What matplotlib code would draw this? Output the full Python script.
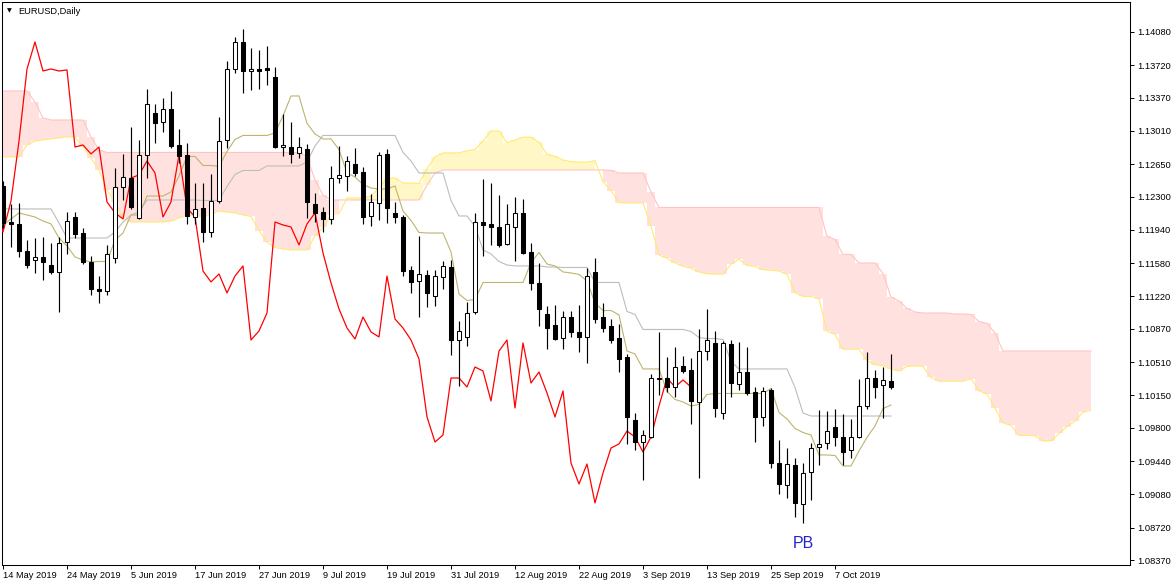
import numpy as np
import matplotlib
matplotlib.use('Agg')
import matplotlib.pyplot as plt
from matplotlib.patches import Rectangle

plt.rcParams['font.family'] = ['Liberation Sans', 'DejaVu Sans']

symbol_title = 'EURUSD,Daily'
date_labels = ['14 May 2019', '24 May 2019', '5 Jun 2019', '17 Jun 2019', '27 Jun 2019', '9 Jul 2019',
               '19 Jul 2019', '31 Jul 2019', '12 Aug 2019', '22 Aug 2019', '3 Sep 2019', '13 Sep 2019',
               '25 Sep 2019', '7 Oct 2019']
date_label_bars = [0, 8, 16, 24, 32, 40, 48, 56, 64, 72, 80, 88, 96, 104]
price_ticks = [1.14080, 1.13720, 1.13370, 1.13010, 1.12650, 1.12300, 1.11940, 1.11580, 1.11220,
               1.10870, 1.10510, 1.10150, 1.09800, 1.09440, 1.09080, 1.08720, 1.08370]

# daily candles, 14 May 2019 .. 16 Oct 2019
opens = [1.12415, 1.12025, 1.12004, 1.11712, 1.11614, 1.11647, 1.11560, 1.11485, 1.11809, 1.12079,
         1.11906, 1.11593, 1.11301, 1.11279, 1.11636, 1.12404, 1.12501, 1.12069, 1.12750, 1.13204,
         1.13107, 1.13247, 1.12858, 1.12750, 1.12079, 1.12177, 1.11917, 1.12252, 1.12912, 1.13680,
         1.13972, 1.13658, 1.13680, 1.13691, 1.13593, 1.12836, 1.12836, 1.12772, 1.12815, 1.12220,
         1.12134, 1.12058, 1.12501, 1.12523, 1.12653, 1.12566, 1.12090, 1.12231, 1.12761, 1.12123,
         1.12079, 1.11506, 1.11387, 1.11452, 1.11225, 1.11431, 1.11539, 1.10749, 1.10782, 1.11052,
         1.12025, 1.12004, 1.11971, 1.11787, 1.11971, 1.12123, 1.11701, 1.11366, 1.11030, 1.10911,
         1.10771, 1.10998, 1.10836, 1.10782, 1.11485, 1.10998, 1.10901, 1.10771, 1.10565, 1.09884,
         1.09646, 1.09700, 1.10328, 1.10338, 1.10241, 1.10468, 1.10425, 1.10079, 1.10630, 1.10717,
         1.09960, 1.10706, 1.10273, 1.10403, 1.10187, 1.09917, 1.10209, 1.09419, 1.09181, 1.09398,
         1.08976, 1.09322, 1.09592, 1.09635, 1.09808, 1.09700, 1.09560, 1.09700, 1.10036, 1.10338,
         1.10263, 1.10306]
highs = [1.12469, 1.12220, 1.12231, 1.11831, 1.11852, 1.11863, 1.11798, 1.11863, 1.12134, 1.12134,
         1.11960, 1.11658, 1.11441, 1.11777, 1.12609, 1.12761, 1.13053, 1.12912, 1.13464, 1.13301,
         1.13366, 1.13442, 1.13031, 1.12880, 1.12447, 1.12447, 1.12544, 1.13161, 1.13766, 1.14026,
         1.14112, 1.13907, 1.13885, 1.13929, 1.13702, 1.13193, 1.13107, 1.12945, 1.12869, 1.12339,
         1.12188, 1.12631, 1.12847, 1.12739, 1.12826, 1.12620, 1.12328, 1.12782, 1.12815, 1.12242,
         1.12101, 1.11550, 1.11874, 1.11506, 1.11506, 1.11604, 1.11614, 1.10955, 1.11160, 1.12123,
         1.12490, 1.12447, 1.12317, 1.12220, 1.12296, 1.12274, 1.11798, 1.11582, 1.11117, 1.11128,
         1.11063, 1.11063, 1.11128, 1.11528, 1.11636, 1.11149, 1.10976, 1.10922, 1.10598, 1.09960,
         1.09776, 1.10382, 1.10836, 1.10565, 1.10674, 1.10576, 1.10555, 1.10868, 1.11085, 1.10847,
         1.10738, 1.10749, 1.10728, 1.10674, 1.10241, 1.10241, 1.10230, 1.09668, 1.09581, 1.09473,
         1.09419, 1.09635, 1.09992, 1.09982, 1.10003, 1.09949, 1.09895, 1.10328, 1.10620, 1.10425,
         1.10457, 1.10598]
lows = [1.11960, 1.11755, 1.11647, 1.11528, 1.11474, 1.11398, 1.11463, 1.11052, 1.11679, 1.11852,
        1.11571, 1.11236, 1.11149, 1.11236, 1.11582, 1.12263, 1.12166, 1.12058, 1.12501, 1.12880,
        1.12999, 1.12826, 1.12663, 1.12004, 1.12004, 1.11809, 1.11863, 1.12231, 1.12826, 1.13637,
        1.13420, 1.13453, 1.13464, 1.13507, 1.12826, 1.12739, 1.12663, 1.12717, 1.12069, 1.12025,
        1.11917, 1.12004, 1.12447, 1.12361, 1.12523, 1.12004, 1.11982, 1.12047, 1.12015, 1.12015,
        1.11441, 1.11258, 1.10998, 1.11106, 1.11117, 1.11301, 1.10587, 1.10252, 1.10684, 1.11030,
        1.11658, 1.11777, 1.11755, 1.11777, 1.11604, 1.11679, 1.11290, 1.10901, 1.10652, 1.10749,
        1.10652, 1.10782, 1.10620, 1.10501, 1.10933, 1.10836, 1.10717, 1.10403, 1.09625, 1.09560,
        1.09235, 1.09690, 1.10154, 1.10187, 1.10133, 1.10392, 1.09841, 1.09257, 1.10533, 1.09917,
        1.09895, 1.10133, 1.10209, 1.10154, 1.09646, 1.09819, 1.09365, 1.09084, 1.09041, 1.08835,
        1.08770, 1.09019, 1.09398, 1.09571, 1.09603, 1.09398, 1.09473, 1.09690, 1.10003, 1.10122,
        1.09906, 1.10219]
closes = [1.12015, 1.12004, 1.11712, 1.11560, 1.11647, 1.11593, 1.11485, 1.11798, 1.12036, 1.11896,
          1.11593, 1.11301, 1.11279, 1.11679, 1.12404, 1.12512, 1.12188, 1.12750, 1.13301, 1.13096,
          1.13247, 1.12847, 1.12739, 1.12090, 1.12166, 1.11917, 1.12252, 1.12901, 1.13680, 1.13972,
          1.13658, 1.13680, 1.13658, 1.13669, 1.12836, 1.12858, 1.12761, 1.12836, 1.12242, 1.12123,
          1.12058, 1.12501, 1.12534, 1.12685, 1.12555, 1.12079, 1.12242, 1.12750, 1.12177, 1.12079,
          1.11495, 1.11377, 1.11463, 1.11258, 1.11441, 1.11550, 1.10749, 1.10847, 1.11041, 1.12025,
          1.11993, 1.11971, 1.11777, 1.12004, 1.12123, 1.11690, 1.11366, 1.11085, 1.10879, 1.10760,
          1.10998, 1.10836, 1.10782, 1.11441, 1.10976, 1.10879, 1.10749, 1.10544, 1.09917, 1.09646,
          1.09722, 1.10338, 1.10338, 1.10241, 1.10457, 1.10414, 1.10090, 1.10630, 1.10749, 1.10014,
          1.10717, 1.10284, 1.10403, 1.10176, 1.09917, 1.10198, 1.09419, 1.09192, 1.09408, 1.08987,
          1.09311, 1.09581, 1.09625, 1.09765, 1.09700, 1.09538, 1.09700, 1.10036, 1.10338, 1.10241,
          1.10317, 1.10241]

# Ichimoku lines
tenkan = [1.11993, 1.12058, 1.12123, 1.12101, 1.12079, 1.12036, 1.12004, 1.11852, 1.11766, 1.11647,
          1.11614, 1.11593, 1.11598, 1.11598, 1.11831, 1.11906, 1.12101, 1.12101, 1.12306, 1.12306,
          1.12306, 1.12350, 1.12523, 1.12734, 1.12734, 1.12636, 1.12636, 1.12626, 1.12788, 1.12918,
          1.12961, 1.12961, 1.12961, 1.12961, 1.12988, 1.13172, 1.13388, 1.13388, 1.13091, 1.12977,
          1.12923, 1.12923, 1.12809, 1.12555, 1.12512, 1.12431, 1.12393, 1.12382, 1.12382, 1.12415,
          1.12144, 1.12042, 1.11912, 1.11906, 1.11906, 1.11906, 1.11701, 1.11247, 1.11176, 1.11187,
          1.11371, 1.11371, 1.11371, 1.11371, 1.11371, 1.11371, 1.11587, 1.11696, 1.11571, 1.11550,
          1.11485, 1.11474, 1.11458, 1.11387, 1.11149, 1.11068, 1.11068, 1.11020, 1.10630, 1.10598,
          1.10436, 1.10436, 1.10436, 1.10192, 1.10106, 1.10079, 1.10036, 1.10052, 1.10160, 1.10171,
          1.10171, 1.10171, 1.10171, 1.10171, 1.10171, 1.10171, 1.10225, 1.09965, 1.09895, 1.09792,
          1.09749, 1.09722, 1.09506, 1.09506, 1.09500, 1.09387, 1.09387, 1.09549, 1.09695, 1.09819,
          1.10008, 1.10046]
kijun = [1.12166, 1.12166, 1.12166, 1.12166, 1.12166, 1.12166, 1.12166, 1.12015, 1.11852, 1.11852,
         1.11852, 1.11852, 1.11852, 1.11852, 1.11917, 1.12025, 1.12101, 1.12134, 1.12263, 1.12263,
         1.12263, 1.12263, 1.12263, 1.12263, 1.12263, 1.12258, 1.12258, 1.12258, 1.12409, 1.12539,
         1.12582, 1.12582, 1.12582, 1.12631, 1.12631, 1.12631, 1.12631, 1.12631, 1.12674, 1.12847,
         1.12961, 1.12961, 1.12961, 1.12961, 1.12961, 1.12961, 1.12961, 1.12961, 1.12961, 1.12961,
         1.12777, 1.12685, 1.12555, 1.12555, 1.12555, 1.12555, 1.12258, 1.12090, 1.12090, 1.11977,
         1.11723, 1.11679, 1.11598, 1.11560, 1.11550, 1.11550, 1.11550, 1.11550, 1.11539, 1.11539,
         1.11533, 1.11533, 1.11533, 1.11533, 1.11371, 1.11371, 1.11371, 1.11371, 1.11058, 1.11025,
         1.10863, 1.10863, 1.10863, 1.10863, 1.10863, 1.10863, 1.10841, 1.10776, 1.10765, 1.10765,
         1.10755, 1.10517, 1.10436, 1.10436, 1.10436, 1.10436, 1.10436, 1.10436, 1.10436, 1.10236,
         1.09960, 1.09927, 1.09927, 1.09927, 1.09927, 1.09927, 1.09927, 1.09927, 1.09927, 1.09927,
         1.09927, 1.09927]
span_a = [1.12728, 1.12728, 1.12728, 1.12858, 1.12901, 1.12912, 1.12923, 1.12934, 1.12945, 1.12945,
          1.12836, 1.12717, 1.12588, 1.12371, 1.12242, 1.12069, 1.12025, 1.12025, 1.12025, 1.12025,
          1.12025, 1.12036, 1.12069, 1.12101, 1.12101, 1.12079, 1.12112, 1.12144, 1.12134, 1.12123,
          1.12101, 1.12085, 1.11933, 1.11809, 1.11750, 1.11733, 1.11723, 1.11723, 1.11723, 1.11874,
          1.11966, 1.12101, 1.12117, 1.12285, 1.12285, 1.12285, 1.12306, 1.12393, 1.12501, 1.12501,
          1.12447, 1.12447, 1.12442, 1.12599, 1.12728, 1.12772, 1.12772, 1.12772, 1.12796, 1.12809,
          1.12901, 1.13009, 1.13009, 1.12882, 1.12912, 1.12942, 1.12942, 1.12885, 1.12758, 1.12736,
          1.12696, 1.12677, 1.12672, 1.12672, 1.12688, 1.12461, 1.12363, 1.12234, 1.12231, 1.12231,
          1.12231, 1.11979, 1.11668, 1.11633, 1.11582, 1.11547, 1.11525, 1.11485, 1.11466, 1.11460,
          1.11460, 1.11568, 1.11623, 1.11555, 1.11544, 1.11509, 1.11504, 1.11495, 1.11460, 1.11260,
          1.11220, 1.11220, 1.11195, 1.10844, 1.10811, 1.10649, 1.10649, 1.10649, 1.10528, 1.10484,
          1.10471, 1.10438, 1.10414, 1.10463, 1.10468, 1.10463, 1.10344, 1.10303, 1.10303, 1.10303,
          1.10303, 1.10330, 1.10200, 1.10165, 1.10014, 1.09854, 1.09825, 1.09717, 1.09717, 1.09714,
          1.09657, 1.09657, 1.09738, 1.09811, 1.09873, 1.09968, 1.09987]
span_b = [1.13442, 1.13442, 1.13442, 1.13442, 1.13323, 1.13150, 1.13128, 1.13128, 1.13128, 1.13128,
          1.13128, 1.12945, 1.12804, 1.12777, 1.12777, 1.12777, 1.12777, 1.12777, 1.12777, 1.12777,
          1.12777, 1.12777, 1.12777, 1.12777, 1.12777, 1.12777, 1.12777, 1.12777, 1.12777, 1.12777,
          1.12777, 1.12777, 1.12777, 1.12777, 1.12777, 1.12777, 1.12777, 1.12777, 1.12728, 1.12480,
          1.12317, 1.12263, 1.12263, 1.12263, 1.12263, 1.12263, 1.12263, 1.12263, 1.12263, 1.12263,
          1.12263, 1.12263, 1.12263, 1.12425, 1.12555, 1.12588, 1.12588, 1.12588, 1.12588, 1.12588,
          1.12588, 1.12588, 1.12588, 1.12588, 1.12588, 1.12588, 1.12588, 1.12588, 1.12588, 1.12588,
          1.12588, 1.12588, 1.12588, 1.12588, 1.12588, 1.12588, 1.12582, 1.12555, 1.12555, 1.12555,
          1.12555, 1.12350, 1.12182, 1.12182, 1.12182, 1.12182, 1.12182, 1.12182, 1.12182, 1.12182,
          1.12182, 1.12182, 1.12182, 1.12182, 1.12182, 1.12182, 1.12182, 1.12182, 1.12182, 1.12182,
          1.12182, 1.12182, 1.12182, 1.11869, 1.11836, 1.11674, 1.11674, 1.11582, 1.11582, 1.11582,
          1.11468, 1.11214, 1.11171, 1.11090, 1.11052, 1.11041, 1.11041, 1.11041, 1.11041, 1.11030,
          1.11030, 1.11025, 1.10949, 1.10928, 1.10825, 1.10630, 1.10630, 1.10630, 1.10630, 1.10630,
          1.10630, 1.10630, 1.10630, 1.10630, 1.10630, 1.10630, 1.10630]
chikou_shift = 25

W, H = 1175, 584
fig = plt.figure(figsize=(W / 100, H / 100), dpi=100)
ax = fig.add_axes([2 / W, 1 - 565 / H, 1128 / W, 563 / H])

bars = np.arange(len(closes))
cloud_x = np.arange(len(span_a))
sa = np.array(span_a)
sb = np.array(span_b)

# cloud
ax.fill_between(cloud_x, sa, sb, where=sb >= sa, step='mid', color='#FFE2E0', lw=0, zorder=1)
ax.fill_between(cloud_x, sa, sb, where=sa > sb, step='mid', color='#FFF7C6', lw=0, zorder=1)
ax.plot(cloud_x, sb, color='#FFC4C0', lw=0.8, zorder=2)
ax.plot(cloud_x, sa, color='#FFEA70', lw=0.8, zorder=2)

# tenkan / kijun / chikou
ax.plot(bars, kijun, color='#BDBDBD', lw=0.8, zorder=3)
ax.plot(bars, tenkan, color='#BDB46E', lw=0.8, zorder=3)
ax.plot(bars - chikou_shift, closes, color='#FF0000', lw=0.9, zorder=3)

# candles
body_w = 0.56
for i in range(len(closes)):
    o, h, l, c = opens[i], highs[i], lows[i], closes[i]
    ax.vlines(i, l, h, color='black', lw=0.85, zorder=4)
    lo, hi = min(o, c), max(o, c)
    if hi - lo < 0.00004:
        ax.hlines(o, i - body_w / 2, i + body_w / 2, color='black', lw=0.85, zorder=5)
        continue
    face = 'white' if c > o else 'black'
    ax.add_patch(Rectangle((i - body_w / 2, lo), body_w, hi - lo, facecolor=face,
                           edgecolor='black', lw=0.75, zorder=5))

ax.set_xlim(-0.125, 140.875)
ax.set_ylim(1.08316, 1.14404)

ax.yaxis.tick_right()
ax.set_yticks(price_ticks)
ax.set_yticklabels(['%.5f' % p for p in price_ticks])
ax.set_xticks(date_label_bars)
ax.set_xticklabels(date_labels, ha='left')
ax.tick_params(axis='both', which='both', direction='out', length=3, width=0.7, colors='black',
               labelsize=6.7)
ax.tick_params(axis='x', pad=1.5)
ax.tick_params(axis='y', pad=2)
for s in ax.spines.values():
    s.set_linewidth(0.75)
    s.set_color('black')

fig.text(7 / W, 1 - 11 / H, '\u25BC', fontsize=4.5, family='DejaVu Sans', va='center', ha='left')
fig.text(18 / W, 1 - 11 / H, symbol_title, fontsize=6.7, va='center', ha='left')
ax.text(100, 1.08549, 'PB', color='#2424C8', fontsize=11.5, ha='center', va='center', zorder=6)

fig.savefig('out.png', dpi=100)
